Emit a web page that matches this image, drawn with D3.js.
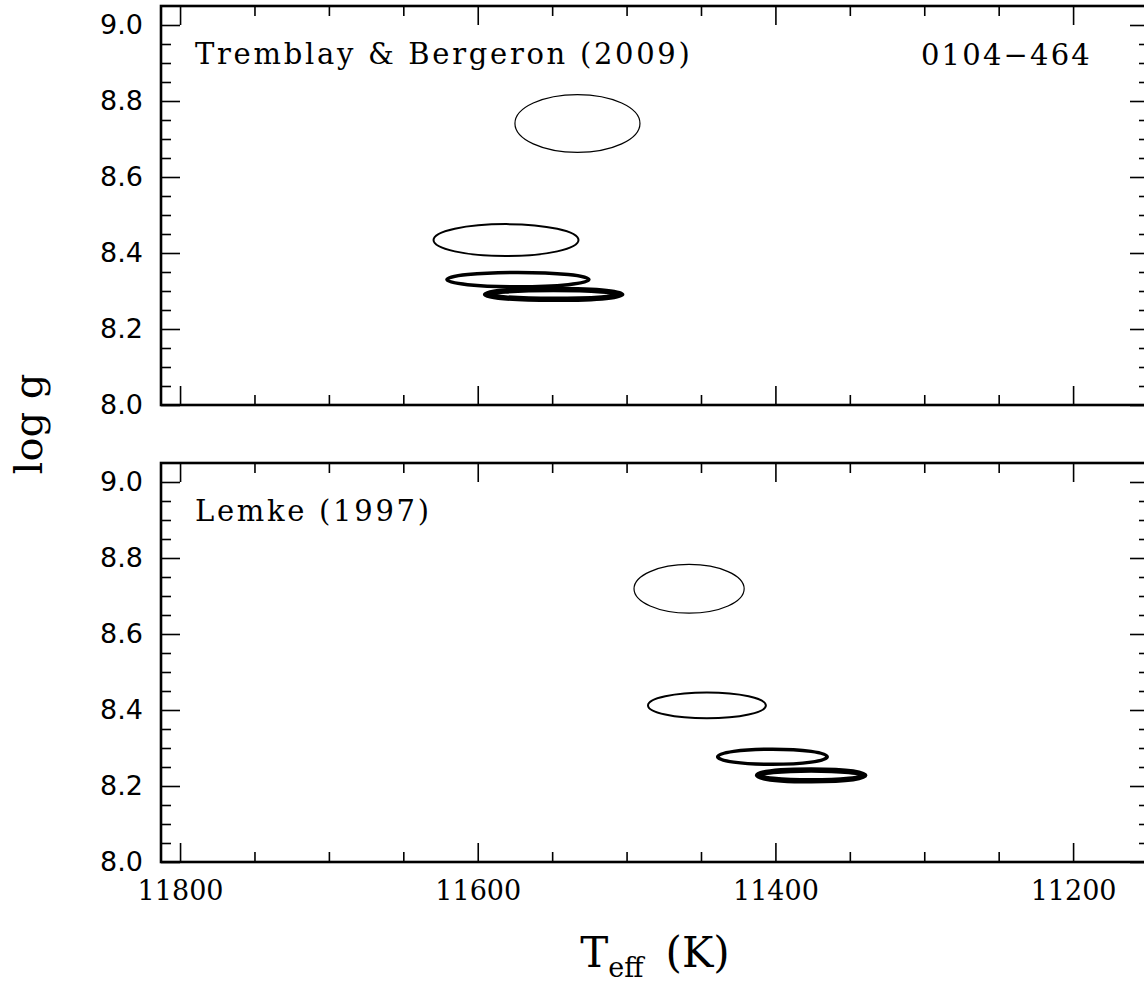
<!DOCTYPE html>
<html>
<head>
<meta charset="utf-8">
<script src="https://cdn.jsdelivr.net/npm/d3@7"></script>
<style>
  body { margin: 0; background: #fff; }
  svg { display: block; }
  .tick line { stroke: #000; stroke-width: 1.6; }
</style>
</head>
<body>
<div id="container"></div>
<script>
// fit results: Teff, log g, 1-sigma sizes, one ellipse per line width
const tbTeff = [11533, 11581, 11573, 11549];
const tbLogg = [8.741, 8.434, 8.330, 8.291];
const tbSigT = [42, 48.7, 47.7, 45.7];
const tbSigG = [0.076, 0.042, 0.019, 0.013];

const lmTeff = [11458, 11446, 11402, 11376];
const lmLogg = [8.719, 8.412, 8.277, 8.228];
const lmSigT = [37, 39.6, 36.8, 36];
const lmSigG = [0.064, 0.034, 0.020, 0.0144];

const lineWidths = [1.2, 2, 3.5, 5.5];

const xMajor = [11800, 11600, 11400, 11200];
const xMinor = [11750, 11700, 11650, 11550, 11500, 11450, 11350, 11300, 11250, 11150];
const yMajor = [8.0, 8.2, 8.4, 8.6, 8.8, 9.0];
const yMinor = [8.05, 8.1, 8.15, 8.25, 8.3, 8.35, 8.45, 8.5, 8.55, 8.65, 8.7, 8.75, 8.85, 8.9, 8.95];

const w = 1144, h = 987;
const left = 161, right = 1149;
const panels = [
  {top: 6, bottom: 405, teff: tbTeff, logg: tbLogg, sT: tbSigT, sG: tbSigG,
   label: "Tremblay & Bergeron (2009)", star: "0104\u2212464"},
  {top: 463, bottom: 862, teff: lmTeff, logg: lmLogg, sT: lmSigT, sG: lmSigG,
   label: "Lemke (1997)", star: null}
];

const svg = d3.select("#container").append("svg").attr("width", w).attr("height", h);

const xScale = d3.scaleLinear().domain([11812.8, 11149]).range([left, right]);

panels.forEach((p, pi) => {
  const yScale = d3.scaleLinear().domain([8.0, 9.05]).range([p.bottom, p.top]);
  const g = svg.append("g");

  // ellipses
  g.selectAll("ellipse")
    .data(p.teff)
    .enter()
    .append("ellipse")
      .attr("cx", d => xScale(d))
      .attr("cy", (d, i) => yScale(p.logg[i]))
      .attr("rx", (d, i) => Math.abs(xScale(d + p.sT[i]) - xScale(d)))
      .attr("ry", (d, i) => Math.abs(yScale(p.logg[i] + p.sG[i]) - yScale(p.logg[i])))
      .attr("fill", "none")
      .attr("stroke", "#000")
      .attr("stroke-width", (d, i) => lineWidths[i]);

  // ticks, all pointing inward
  const addAxis = (axis, tx, ty, vals, size, labels, font) => {
    const a = axis.tickValues(vals).tickSize(-size).tickSizeOuter(0);
    if (!labels) a.tickFormat("");
    const ag = g.append("g").attr("transform", `translate(${tx}, ${ty})`).call(a);
    ag.select(".domain").remove();
    ag.selectAll("text").attr("fill", "#000").style("font-family", font).style("font-size", "27px");
    return ag;
  };
  const xLab = pi === 1;
  addAxis(d3.axisBottom(xScale).tickPadding(19).tickFormat(d3.format("d")), 0, p.bottom, xMajor, 19, xLab, "DejaVu Serif");
  addAxis(d3.axisBottom(xScale), 0, p.bottom, xMinor, 10, false);
  addAxis(d3.axisTop(xScale), 0, p.top, xMajor, 19, false);
  addAxis(d3.axisTop(xScale), 0, p.top, xMinor, 10, false);
  addAxis(d3.axisLeft(yScale).tickPadding(18).tickFormat(d3.format(".1f")), left, 0, yMajor, 19, true, "DejaVu Sans");
  addAxis(d3.axisLeft(yScale), left, 0, yMinor, 10, false);
  addAxis(d3.axisRight(yScale), right, 0, yMajor, 19, false);
  addAxis(d3.axisRight(yScale), right, 0, yMinor, 10, false);

  // frame
  g.append("rect")
    .attr("x", left).attr("y", p.top)
    .attr("width", right - left).attr("height", p.bottom - p.top)
    .attr("fill", "none").attr("stroke", "#000").attr("stroke-width", 2.6);

  g.append("text")
    .attr("x", 195).attr("y", p.top + 58)
    .style("font-family", "DejaVu Serif").style("font-size", "29px")
    .style("letter-spacing", "2.7px")
    .text(p.label);
  if (p.star) {
    g.append("text")
      .attr("x", 1092).attr("y", p.top + 59)
      .attr("text-anchor", "end")
      .style("font-family", "DejaVu Serif").style("font-size", "29px")
      .style("letter-spacing", "2.2px")
      .text(p.star);
  }
});

// axis titles
const xt = svg.append("text")
  .attr("x", 655).attr("y", 967)
  .attr("text-anchor", "middle")
  .style("font-family", "DejaVu Serif").style("font-size", "42px");
xt.append("tspan").text("T");
xt.append("tspan").attr("dy", 10).style("font-size", "27px").text("eff");
xt.append("tspan").attr("dy", -10).attr("dx", 22).text("(K)");

svg.append("text")
  .attr("transform", "translate(42, 424) rotate(-90)")
  .attr("text-anchor", "middle")
  .style("font-family", "DejaVu Serif").style("font-size", "40px")
  .text("log g");
</script>
</body>
</html>
